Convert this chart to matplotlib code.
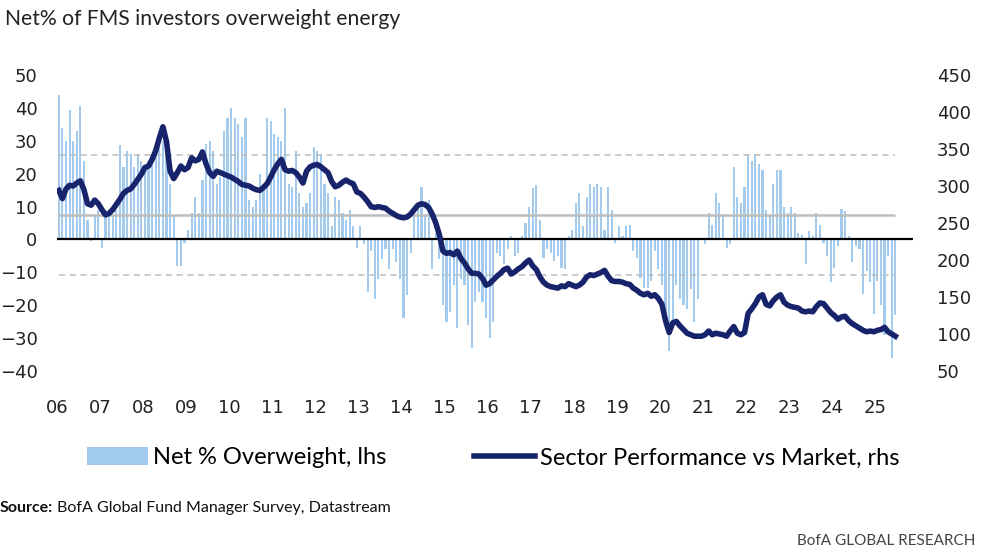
"""
Net % of FMS investors overweight energy vs energy sector relative performance.
"""

import numpy as np
import matplotlib.pyplot as plt
from matplotlib.patches import Patch
from matplotlib.lines import Line2D


# Monthly net % overweight energy (lhs), Jan 2006 onwards
netOverweight = (
    [44, 34, 30, 39.5, 30, 33, 40.5, 24, 6, -0.5, 7, 9] +             # 2006
    [-2.5, 8, 9, 7, 9, 28.6, 22, 27, 26, 22, 26, 24] +                 # 2007
    [22, 24, 26, 27, 28, 30, 27, 17, 7, -8, -8, -1] +                  # 2008
    [3, 8, 13, 8, 18, 29, 30, 27, 17, 19, 33, 37] +                    # 2009
    [40, 37, 35, 31, 37, 12, 10, 12, 20, 17, 37, 36] +                 # 2010
    [32, 31, 30, 40, 17, 16, 27, 14, 10, 11, 14, 28] +                 # 2011
    [27, 26, 17, 14, 4, 13, 12, 8, 6, 9, 4, -2.5] +                    # 2012
    [4, -1.5, -16, -3.5, -18, -12, -6, -3, -9, -3, -7, -12] +          # 2013
    [-24, -17, -4, 7, 11, 16, 7, 12, -9, 2, -6, -20] +                 # 2014
    [-25, -22, -14, -27, -12, -14, -26, -33, -19, -16, -19, -24] +     # 2015
    [-30, -25, -4, -5, -7.6, -3, 1, -5, -4, 1, 5, 10] +                # 2016
    [15.7, 16.7, 6, -5.6, -3, -4, -6.6, -5, -8.6, -9, 1, 3] +          # 2017
    [11, 14, 4, 13, 17, 16, 17, 16, 3, 16, 9, -1] +                    # 2018
    [4, 1, 4, 4.5, -3.5, -5.6, -11.6, -14.7, -14.7, -12.6, -3.5, -9] + # 2019
    [-14, -24, -34, -26, -14, -18, -20, -21, -15, -25, -18, 0.5] +     # 2020
    [-1.5, 8, 4.5, 14, 11, 7, -2.5, -1.5, 22, 13, 11, 16] +            # 2021
    [26, 24, 26, 23, 21, 9, 7, 17, 21, 21, 10, 8] +                    # 2022
    [10, 8, 2, 1.5, -7.6, 2.5, 1, 8, 4.5, -1, -5, -13] +               # 2023
    [-8.6, -2, 9.4, 8.6, 1, -7, -2, -3, -16.7, -9.6, -13, -22.8] +     # 2024
    [-12.7, -20, -29, -5, -36, -23]                                    # 2025
)

# Monthly energy sector performance vs market (rhs), same months
sectorPerformance = [
    294, 283, 296, 301, 300, 304, 307, 295, 276, 274, 281, 276,
    268, 261, 263, 268, 275, 282, 290, 294, 296, 302, 309, 316,
    325, 327, 336, 348, 365, 380, 360, 320, 310, 318, 327, 322,
    325, 338, 334, 336, 346, 330, 318, 313, 320, 318, 316, 314,
    312, 309, 306, 302, 301, 300, 297, 295, 294, 298, 303, 312,
    322, 330, 336, 322, 320, 321, 318, 312, 304, 320, 326, 328,
    329, 326, 322, 318, 306, 299, 301, 305, 308, 305, 303, 292,
    290, 285, 279, 272, 271, 272, 271, 270, 266, 263, 260, 258,
    257, 258, 262, 268, 274, 276, 275, 271, 262, 250, 234, 212,
    209, 210, 207, 212, 202, 196, 188, 182, 182, 181, 175, 166,
    168, 173, 178, 182, 187, 189, 181, 184, 188, 191, 196, 200,
    192, 187, 177, 170, 166, 164, 163, 162, 165, 164, 168, 166,
    164, 166, 170, 177, 180, 179, 181, 183, 186, 178, 172, 171,
    171, 170, 168, 167, 162, 159, 155, 153, 155, 151, 153, 148,
    140, 118, 102, 115, 117, 111, 106, 101, 99, 97, 97, 97,
    99, 104, 99, 101, 100, 99, 97, 104, 110, 101, 99, 102,
    128, 134, 141, 150, 153, 140, 138, 145, 150, 153, 143, 139,
    137, 136, 135, 131, 130, 131, 130, 137, 142, 141, 135, 129,
    125, 120, 123, 124, 118, 114, 111, 108, 105, 103, 104, 103,
    105, 106, 109, 103, 100, 97,
]

startYear = 2006
yearTicks = list(range(2006, 2026))
yearLabels = ["{:02d}".format(y % 100) for y in yearTicks]

# Long-run average and +/- 1 std dev bands
averageLevel = 7.3
upperBand = 25.8
lowerBand = -10.8

barColor = "#a3cbee"
lineColor = "#17246b"
bandColor = "#bdbdbd"
textFont = ["Lato", "DejaVu Sans"]


def main():
    months = np.arange(len(netOverweight))
    dates = startYear + (months + 0.5) / 12

    fig = plt.figure(figsize=(9.9, 5.51), dpi=100)
    ax = fig.add_axes([0.0576, 0.3267, 0.8647, 0.5372])
    ax2 = ax.twinx()

    ax.bar(dates, netOverweight, width=0.6 / 12, color=barColor,
           linewidth=0, zorder=1)

    # Average and +/- 1 std bands span the data only
    ax.hlines([upperBand, lowerBand], dates[0], dates[-1], colors=bandColor,
              linestyles=(0, (4, 3)), linewidth=1.1, zorder=2)
    ax.hlines(averageLevel, dates[0], dates[-1], colors=bandColor,
              linewidth=1.8, zorder=2)
    ax.axhline(0, color="black", linewidth=1.6, zorder=3)

    ax2.plot(dates, sectorPerformance, color=lineColor, linewidth=4,
             solid_joinstyle="round", zorder=4)

    ax.set_xlim(2006.0, 2025.87)
    ax.set_ylim(-40, 50)
    ax2.set_ylim(50, 450)
    ax.set_yticks(range(-40, 51, 10))
    ax2.set_yticks(range(50, 451, 50))
    ax.set_xticks(yearTicks)
    ax.set_xticklabels(yearLabels)

    for spine in list(ax.spines.values()) + list(ax2.spines.values()):
        spine.set_visible(False)
    ax.tick_params(axis="x", length=0, pad=20, labelsize=13,
                   labelcolor="#222222")
    ax.tick_params(axis="y", length=0, pad=14, labelsize=13,
                   labelcolor="#222222")
    ax2.tick_params(axis="y", length=0, pad=17, labelsize=13,
                    labelcolor="#222222")

    # Title, legend and footer
    fig.text(0.005, 0.965, "Net% of FMS investors overweight energy",
             fontsize=15.2, family=textFont, color="#222222",
             va="center", ha="left")

    handles = [Patch(facecolor=barColor, edgecolor="none"),
               Line2D([0], [0], color=lineColor, linewidth=4)]
    fig.legend(handles,
               ["Net % Overweight, lhs", "Sector Performance vs Market, rhs"],
               loc="center", bbox_to_anchor=(0.498, 0.169), ncol=2,
               frameon=False, handlelength=2.6, handleheight=0.8,
               handletextpad=0.2, columnspacing=3.7,
               prop={"family": textFont, "size": 17})

    source = fig.text(0.0, 0.078, "Source:", fontsize=11.5, family=textFont,
                      weight="bold", va="center", ha="left",
                      color="#111111")
    renderer = fig.canvas.get_renderer()
    box = source.get_window_extent(renderer)
    fig.text(box.x1 / fig.bbox.width + 0.004, 0.078,
             "BofA Global Fund Manager Survey, Datastream",
             fontsize=11.5, family=textFont, va="center", ha="left",
             color="#111111")
    fig.text(0.985, 0.018, "BofA GLOBAL RESEARCH", fontsize=11,
             family=textFont, va="center", ha="right", color="#444444")

    fig.savefig("out.png", dpi=100)


if __name__ == "__main__":
    main()
